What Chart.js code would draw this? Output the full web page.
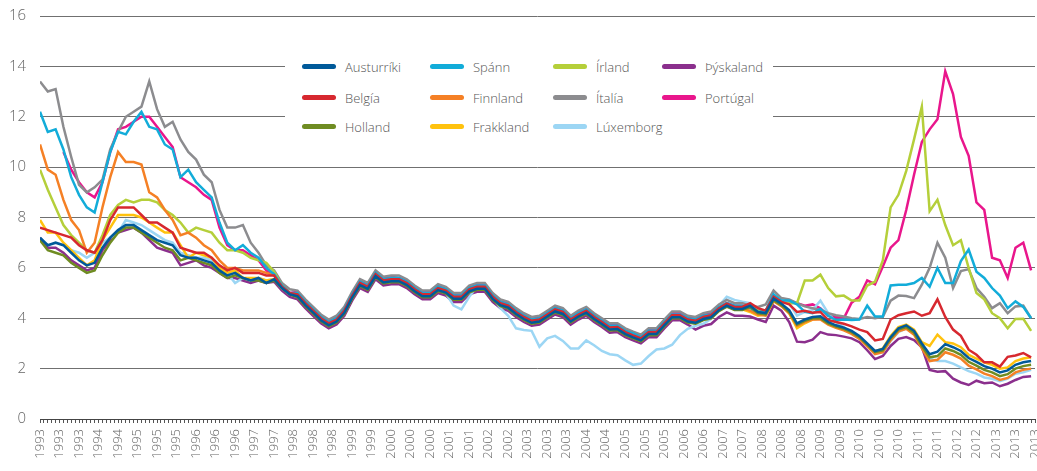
<!DOCTYPE html>
<html>
<head>
<meta charset="UTF-8">
<title>vextir</title>
<script src="https://cdn.jsdelivr.net/npm/chart.js"></script>
<style>
	body {margin:0; background:#fff;}
	#wrap {position:relative; width:1037px; height:471px;}
	#legend {position:absolute; left:285px; top:52px; width:488px; height:92px; background:#fff;}
	.item {position:absolute; height:20px; font:300 13px "Open Sans", sans-serif; color:#555; white-space:nowrap;}
	.item span.sw {position:absolute; left:0; top:7px; width:34px; height:5px; border-radius:3px;}
	.item span.tx {position:absolute; left:43px; top:0; line-height:20px;}
</style>
</head>
<body>
<div id="wrap">
	<canvas id="myChart"></canvas>
	<div id="legend"></div>
</div>
<script>
	// merkimiðar á x-ás (einn fyrir hvern 5. punkt)
	const tickLabels = ['1993','1993','1993','1994','1994','1995','1995','1995','1996','1996','1996',
		'1997','1997','1998','1998','1998','1999','1999','2000','2000','2000','2001','2001','2002','2002',
		'2003','2003','2003','2004','2004','2005','2005','2005','2006','2006','2007','2007','2008','2008','2008',
		'2009','2009','2010','2010','2010','2011','2011','2012','2012','2013','2013','2013'];

	// gildi á tveggja punkta fresti (x = 0, 2, 4 ... 254)
	const austurriki = [7.2,6.9,7.0,6.9,6.6,6.3,6.1,6.2,6.8,7.2,7.5,7.7,7.7,7.5,7.3,7.1,7.0,6.9,6.5,6.4,6.4,6.3,6.2,5.9,5.7,5.8,5.6,5.5,5.6,5.4,
		5.55,5.2,4.95,
		4.87,4.52,4.22,3.92,3.72,3.87,4.22,4.82,5.32,5.17,5.67,5.42,5.47,5.47,5.32,5.07,4.87,4.87,5.12,5.02,4.77,4.77,5.07,5.17,5.17,4.77,4.52,4.42,4.17,3.97,
		3.82,3.87,4.07,4.27,4.17,3.87,4.07,4.22,3.97,3.77,3.55,3.57,3.37,3.24,3.12,3.37,3.37,3.72,4.04,4.04,3.87,3.82,3.97,4.04,4.32,4.5,4.37,4.37,4.5,4.25,
		4.2,4.78,4.58,4.32,3.8,3.95,4.05,4.08,3.85,3.72,3.63,3.5,3.3,3.0,2.7,2.78,3.25,3.6,3.72,3.5,3.0,2.57,2.67,2.97,2.85,2.7,2.42,2.27,2.1,2.0,1.85,1.93,2.15,2.25,2.3];
	const belgia = [7.6,7.5,7.4,7.3,7.2,6.9,6.7,6.6,7.1,7.9,8.4,8.4,8.4,8.1,7.8,7.8,7.6,7.4,6.8,6.7,6.6,6.6,6.4,6.1,5.9,6.0,5.8,5.8,5.8,5.7,
		5.7,5.25,5.0,
		4.95,4.6,4.3,4.0,3.8,3.95,4.3,4.9,5.4,5.25,5.75,5.5,5.55,5.55,5.4,5.15,4.95,4.95,5.2,5.1,4.85,4.85,5.15,5.25,5.25,4.85,4.6,4.5,4.25,4.05,
		3.9,3.95,4.15,4.35,4.25,3.95,4.15,4.3,4.05,3.85,3.63,3.65,3.45,3.32,3.2,3.45,3.45,3.8,4.12,4.12,3.95,3.9,4.05,4.12,4.4,4.58,4.45,4.45,
		4.6,4.4,4.3,4.85,4.65,4.55,4.25,4.3,4.22,4.25,3.93,3.85,3.78,3.68,3.55,3.45,3.12,3.18,3.95,4.12,4.2,4.27,4.1,4.2,4.75,4.05,3.55,3.3,2.75,2.55,2.25,2.25,2.08,2.47,2.52,2.62,2.45];
	const holland = [7.1,6.7,6.6,6.5,6.2,6.0,5.8,5.9,6.5,7.0,7.4,7.6,7.6,7.4,7.2,7.0,6.8,6.7,6.3,6.4,6.3,6.2,6.1,5.8,5.6,5.7,5.6,5.5,5.5,5.4,
		5.5,5.2,4.95,
		4.83,4.48,4.18,3.88,3.68,3.83,4.18,4.78,5.28,5.13,5.63,5.38,5.43,5.43,5.28,5.03,4.83,4.83,5.08,4.98,4.73,4.73,5.03,5.13,5.13,4.73,4.48,4.38,4.13,3.93,
		3.78,3.83,4.03,4.23,4.13,3.83,4.03,4.18,3.93,3.73,3.51,3.53,3.33,3.2,3.08,3.33,3.33,3.68,4.0,4.0,3.83,3.78,3.93,4.0,4.28,4.46,4.33,4.33,4.45,4.2,
		4.15,4.72,4.52,4.25,3.75,3.9,4.0,4.0,3.8,3.67,3.58,3.45,3.25,2.95,2.65,2.72,3.2,3.55,3.65,3.42,2.9,2.45,2.5,2.8,2.7,2.55,2.27,2.12,1.95,1.85,1.7,1.78,2.0,2.1,2.15];
	const spann = [12.2,11.4,11.5,10.7,9.6,8.9,8.4,8.2,9.4,10.6,11.4,11.3,11.8,12.2,11.6,11.5,10.9,10.7,9.6,9.9,9.4,9.1,8.8,7.8,7.0,6.7,6.9,6.6,6.4,6.0,
		5.75,5.3,5.0,
		5.0,4.65,4.35,4.05,3.85,4.0,4.35,4.95,5.45,5.3,5.8,5.55,5.6,5.6,5.45,5.2,5.0,5.0,5.25,5.15,4.9,4.9,5.2,5.3,5.3,4.9,4.65,4.55,4.3,4.1,
		3.95,4.0,4.2,4.4,4.3,4.0,4.2,4.35,4.1,3.9,3.7,3.7,3.5,3.4,3.25,3.5,3.5,3.85,4.15,4.15,4.0,3.95,4.1,4.15,4.45,4.6,4.5,4.5,4.4,4.25,
		4.3,4.95,4.7,4.7,4.55,4.25,4.2,4.38,4.1,3.93,3.95,3.93,3.95,4.5,4.07,4.07,5.3,5.33,5.33,5.4,5.6,5.25,6.0,5.4,5.4,6.27,6.73,5.85,5.6,5.2,4.9,4.4,4.67,4.45,4.0];
	const finnland = [10.9,9.9,9.7,8.7,7.9,7.5,6.6,7.0,8.4,9.6,10.6,10.2,10.2,10.1,9.0,8.8,8.3,7.9,7.3,7.4,7.2,6.9,6.7,6.3,6.0,6.0,5.9,5.9,5.9,5.8,
		5.7,5.25,5.0,
		4.9,4.55,4.25,3.95,3.75,3.9,4.25,4.85,5.35,5.2,5.7,5.45,5.5,5.5,5.35,5.1,4.9,4.9,5.15,5.05,4.8,4.8,5.1,5.2,5.2,4.8,4.55,4.45,4.2,4.0,
		3.85,3.9,4.1,4.3,4.2,3.9,4.1,4.25,4.0,3.8,3.58,3.6,3.4,3.27,3.15,3.4,3.4,3.75,4.07,4.07,3.9,3.85,4.0,4.07,4.35,4.53,4.4,4.4,4.3,4.15,
		4.1,4.68,4.48,4.2,3.7,3.85,3.95,3.95,3.75,3.62,3.52,3.38,3.18,2.88,2.58,2.65,3.12,3.48,3.58,3.35,2.8,2.3,2.35,2.65,2.55,2.4,2.12,1.97,1.8,1.7,1.55,1.63,1.85,1.95,2.0];
	const frakkland = [7.9,7.4,7.4,7.0,6.7,6.4,6.1,6.3,7.1,7.6,8.1,8.1,8.1,8.0,7.8,7.6,7.4,7.4,6.9,6.4,6.6,6.5,6.4,6.0,5.8,5.9,5.6,5.6,5.6,5.5,
		5.55,5.2,4.95,
		4.85,4.5,4.2,3.9,3.7,3.85,4.2,4.8,5.3,5.15,5.65,5.4,5.45,5.45,5.3,5.05,4.85,4.85,5.1,5.0,4.75,4.75,5.05,5.15,5.15,4.75,4.5,4.4,4.15,3.95,
		3.8,3.85,4.05,4.25,4.15,3.85,4.05,4.2,3.95,3.75,3.53,3.55,3.35,3.22,3.1,3.35,3.35,3.7,4.02,4.02,3.85,3.8,3.95,4.02,4.3,4.48,4.35,4.35,4.25,4.1,
		4.15,4.7,4.5,4.2,3.6,3.8,3.95,4.0,3.8,3.68,3.6,3.45,3.25,2.95,2.68,2.8,3.3,3.65,3.75,3.55,3.05,2.9,3.35,3.05,3.0,2.85,2.55,2.4,2.25,2.15,2.0,2.05,2.3,2.4,2.45];
	const irland = [9.9,9.1,8.4,7.7,7.3,7.0,6.7,6.6,7.3,8.1,8.5,8.7,8.6,8.7,8.7,8.6,8.3,8.1,7.8,7.4,7.6,7.5,7.4,7.0,6.7,6.7,6.6,6.4,6.3,6.2,
		5.85,5.3,5.0,
		4.95,4.6,4.3,4.0,3.8,3.95,4.3,4.9,5.4,5.25,5.75,5.5,5.55,5.55,5.4,5.15,4.95,4.95,5.2,5.1,4.85,4.85,5.15,5.25,5.25,4.85,4.6,4.5,4.25,4.05,
		3.9,3.95,4.15,4.35,4.25,3.95,4.15,4.3,4.05,3.85,3.53,3.55,3.35,3.22,3.1,3.35,3.35,3.7,4.12,4.12,3.95,3.9,4.05,4.12,4.4,4.58,4.45,4.45,4.45,4.3,
		4.3,4.85,4.65,4.6,4.6,5.5,5.5,5.73,5.2,4.87,4.9,4.7,4.7,5.3,5.45,6.3,8.4,8.9,9.85,11.1,12.4,8.25,8.7,7.7,6.9,7.1,6.0,5.0,4.75,4.2,4.0,3.6,3.97,3.98,3.5];
	const italia = [13.4,13.0,13.1,11.6,10.4,9.3,9.0,9.2,9.5,10.7,11.4,12.0,12.2,12.4,13.4,12.3,11.6,11.8,11.1,10.6,10.3,9.7,9.4,8.3,7.6,7.6,7.7,7.0,6.6,6.1,
		5.9,5.4,5.15,5.1,4.75,4.45,4.15,3.95,4.1,4.45,5.05,5.55,5.4,5.9,5.65,5.7,5.7,5.55,5.3,5.1,5.1,5.35,5.25,5.0,5.0,5.3,5.4,5.4,5.0,4.75,4.65,
		4.4,4.2,4.05,4.1,4.3,4.5,4.4,4.1,4.3,4.45,4.2,4.0,3.8,3.8,3.6,3.47,3.35,3.6,3.6,3.95,4.27,4.27,4.1,4.05,4.2,4.27,4.55,4.73,4.6,4.6,4.5,4.45,
		4.55,5.1,4.8,4.75,4.6,4.47,4.4,4.33,4.2,4.12,4.07,4.0,3.97,4.05,4.0,4.05,4.7,4.9,4.88,4.8,5.33,6.0,7.0,6.4,5.2,5.87,5.95,5.2,4.85,4.4,4.6,4.2,4.47,4.5,4.0];
	const luxemborg = [null,null,null,null,6.7,6.6,6.4,6.6,7.0,7.2,7.4,7.9,7.8,7.7,7.5,7.3,7.1,7.0,6.6,6.5,6.4,6.4,6.3,6.0,5.8,5.4,5.6,5.5,5.6,5.5,
		5.55,5.2,4.95,
		4.9,4.55,4.25,3.95,3.75,3.9,4.25,4.85,5.35,5.2,5.7,5.45,5.5,5.5,5.35,5.1,4.9,4.9,5.15,5.0,4.5,4.35,4.85,5.25,5.2,4.8,
		4.4,4.1,3.6,3.53,3.5,2.87,3.2,3.3,3.1,2.8,2.8,3.12,2.93,2.7,2.57,2.53,2.33,2.15,2.2,2.5,2.76,2.8,2.95,3.33,3.58,3.7,3.78,3.98,4.5,4.85,4.73,4.66,4.6,4.35,
		4.3,4.9,4.72,4.6,4.1,4.25,4.33,4.7,4.2,3.85,3.65,3.4,3.2,2.9,2.6,2.65,3.1,3.45,3.6,3.4,2.9,2.4,2.3,2.3,2.2,2.05,1.9,1.8,1.65,1.6,1.5,1.6,1.8,1.85,1.95];
	const thyskaland = [7.2,6.8,6.8,6.6,6.3,6.1,5.9,6.0,6.7,7.1,7.4,7.5,7.6,7.4,7.1,6.8,6.7,6.6,6.1,6.2,6.3,6.1,6.0,5.8,5.6,5.6,5.5,5.4,5.5,5.4,
		5.45,5.1,4.85,
		4.75,4.4,4.1,3.8,3.6,3.75,4.1,4.7,5.2,5.05,5.55,5.3,5.35,5.35,5.2,4.95,4.75,4.75,5.0,4.9,4.65,4.65,4.95,5.05,5.05,4.65,4.4,4.3,4.05,3.85,
		3.7,3.75,3.95,4.15,4.05,3.75,3.95,4.1,3.85,3.65,3.43,3.45,3.25,3.12,3.0,3.25,3.25,3.6,3.92,3.92,3.75,3.55,3.7,3.77,4.05,4.23,4.1,4.1,
		4.07,3.95,3.85,4.5,4.3,3.85,3.07,3.05,3.15,3.45,3.35,3.33,3.27,3.2,3.05,2.73,2.38,2.5,2.9,3.18,3.25,3.13,2.85,1.95,1.88,1.9,1.6,1.45,1.35,1.52,1.42,1.45,1.3,1.4,1.55,1.67,1.7];
	const portugal = [null,null,null,10.6,9.9,9.4,9.0,8.8,9.4,10.6,11.5,11.6,11.8,12.0,12.0,11.6,11.2,10.8,9.6,9.4,9.2,8.9,8.7,7.6,6.9,6.7,6.7,6.5,6.3,5.9,
		5.75,5.3,5.0,
		5.05,4.7,4.4,4.1,3.9,4.05,4.4,5.0,5.5,5.35,5.8,5.6,5.65,5.6,5.5,5.25,5.05,5.05,5.3,5.2,4.95,4.95,5.25,5.35,5.3,4.95,4.7,4.6,4.35,4.15,
		4.0,4.05,4.25,4.45,4.35,4.05,4.25,4.4,4.15,3.95,3.75,3.75,3.55,3.45,3.3,3.55,3.55,3.9,4.2,4.2,4.05,4.0,4.15,4.2,4.45,4.6,4.5,4.5,4.45,4.3,
		4.3,4.9,4.65,4.7,4.6,4.5,4.55,4.4,4.1,4.05,4.0,4.62,4.85,5.5,5.35,6.05,6.8,7.1,8.3,9.7,11.0,11.5,11.9,13.8,12.9,11.2,10.45,8.6,8.3,6.4,6.3,5.6,6.8,7.0,5.9];

	const names = ['Austurríki','Belgía','Holland','Spánn','Finnland','Frakkland','Írland','Ítalía','Lúxemborg','Þýskaland','Portúgal'];
	const colors = ['#005a9a','#d7282f','#6f8c22','#12acd9','#f58025','#ffc20e','#b5cf3a','#8c8c8f','#9cd6f4','#8b2f8d','#e9168c'];
	const series = [austurriki, belgia, holland, spann, finnland, frakkland, irland, italia, luxemborg, thyskaland, portugal];

	const datasets = series.map(function(vals, k) {
		return {
			label: names[k],
			data: vals.map(function(v, j) { return {x: j * 2, y: v}; }),
			borderColor: colors[k],
			backgroundColor: colors[k],
			borderWidth: 2.5,
			pointRadius: 0,
			tension: 0,
			spanGaps: false
		};
	});

	const font = '"Open Sans", sans-serif';
	new Chart(document.getElementById('myChart'), {
		type: 'line',
		data: {datasets: datasets},
		options: {
			responsive: true,
			maintainAspectRatio: false,
			animation: false,
			layout: {padding: {top: 16, right: 2, left: 0, bottom: 0}},
			plugins: {legend: {display: false}, tooltip: {enabled: false}},
			scales: {
				x: {
					type: 'linear', min: 0, max: 255,
					grid: {drawOnChartArea: false, drawTicks: true, tickLength: 4, color: '#555'},
					border: {display: true, color: '#444', width: 1},
					ticks: {
						stepSize: 1, autoSkip: false, minRotation: 90, maxRotation: 90, padding: 6,
						color: '#666', font: {family: font, size: 13, weight: 300},
						callback: function(v) { return v % 5 === 0 ? tickLabels[v / 5] : ''; }
					},
					afterFit: function(s) { s.height = 52; s.paddingLeft = 0; s.paddingRight = 0; }
				},
				y: {
					min: 0, max: 16,
					grid: {color: '#707070', lineWidth: 1, drawTicks: false},
					border: {display: false},
					ticks: {stepSize: 2, padding: 14, color: '#666', font: {family: font, size: 15, weight: 300}},
					afterFit: function(s) { s.width = 40; s.paddingTop = 0; s.paddingBottom = 0; }
				}
			}
		}
	});

	// skýringar ofan á teikningunni
	const colX = [17, 145, 268, 377];
	const rowY = [5, 36, 65];
	names.forEach(function(n, k) {
		const el = document.createElement('div');
		el.className = 'item';
		el.style.left = colX[Math.floor(k / 3)] + 'px';
		el.style.top = rowY[k % 3] + 'px';
		el.innerHTML = '<span class="sw" style="background:' + colors[k] + '"></span><span class="tx">' + n + '</span>';
		document.getElementById('legend').appendChild(el);
	});
</script>
</body>
</html>
